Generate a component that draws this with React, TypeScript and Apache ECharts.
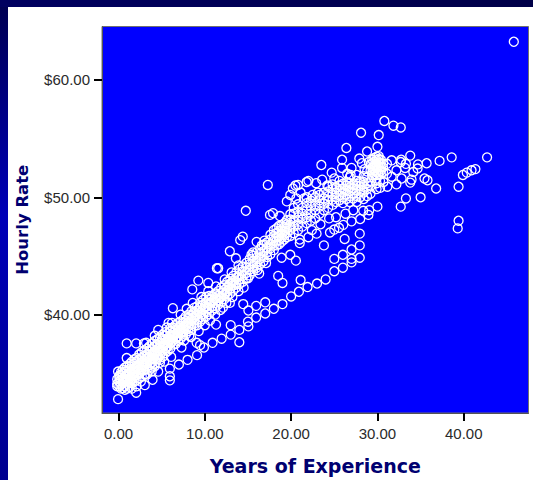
import React, { useEffect, useRef } from "react";
import * as echarts from "echarts";

// Tick labels
const xTicks = [0, 10, 20, 30, 40];
const yTicks = [40, 50, 60];

// Isolated circles above the band and to its right: [years, rate]
const upperPoints = [
  [45.8,63.25],[30.8,56.5],[31.85,56.1],[32.7,55.95],[28.1,55.5],[30.15,55.3],[26.4,54.2],[30,54.3],[28.8,53.9],
  [23.5,52.75],[25.9,53.2],[25.9,52.5],[27.9,53.3],[33.8,53.55],[38.6,53.4],[42.7,53.4],[37.2,53.1],[35.7,52.9],
  [34.7,52.8],[41.35,52.4],[40.9,52.3],[40.35,52.1],[39.9,51.9],[39.4,50.9],[35.45,51.6],[35.8,51.45],[36.8,50.75],
  [35,50],[33.3,49.9],[32.7,49.2],[39.4,48],[39.3,47.35],[31.65,53.15],[32.75,53.2],[33.2,52.5],[34.15,52.15],
  [32.8,51.6],[33.95,51.5],[33.8,51.25],[32.2,51.1],[31.15,50.9],[31.65,51.75],[30.7,51.3],[34.65,52.45],[33.3,52.85],
  [32.7,53],[32.2,52.3],[31.1,52.85],[31.1,52],[17.3,51.05],[17.55,48.5],[17.9,48.65],[21.8,51.3],[22,51.4],
  [20.2,50.75],[20.5,51],[20.8,51.05],[19.5,49.65],[19.9,50.2],[14.75,48.85],[14.4,46.65],[14.1,46.35],[13.6,44.8],
  [11.4,43.95],[11.55,43.95],[9.25,42.9],[10.4,42.7],[8.55,42.15],[6.3,40.55],[5.8,39.3],[4.6,38.7],[0.95,37.55],
  [2.05,37.55],[2.95,37.55],[0.95,36.3],[-0.05,35.15],[12.9,45.4],[15.6,45.3],[16,46.2],[16.9,46.3],[18.7,48.4],
  [21.5,49.9],[22.5,50.2],[23.1,50.4],[24.2,51],[25,51.6],[26.5,52],[27,52.5],[28.5,52.4],[29,53],[29.4,51.9],
  [22.9,51.2],[23.6,51.5],[24.7,52.1],[21.1,50.4],[28.2,52.9],[26.9,51.9],[20.6,49.9],
];

// Circles below the band, including the long lower chain
const lowerPoints = [
  [-0.05,32.8],[2.05,33.35],[3.05,34],[3.95,34.45],[5.95,34.75],[5.95,34.4],[5.95,35.4],[7,35.75],[8,36.15],[9.1,36.55],
  [4.8,35.9],[4.6,35.15],[3.85,35.15],[9.05,37.6],[9.45,37.4],[9.9,37.2],[10.9,37.6],[11.95,37.95],[13,38.3],[14,38.7],
  [15.05,39],[15.95,39.75],[17,40.1],[14,37.65],[13,39.1],[11.3,39.15],[15,39.4],[14.45,40.9],[15.05,40.35],[15.95,40.75],
  [17,41.05],[18,40.5],[19,40.9],[20,41.55],[20.9,41.95],[21.9,42.35],[21.1,42.95],[23,42.65],[24,43],[25,43.7],[26,44],
  [27,44.45],[27,44.75],[25,44.75],[26,45.1],[27.95,44.85],[27,45.55],[27.95,45.9],[23.8,45.9],[26.2,46.45],[27.95,46.9],
  [18.5,43.3],[19,42.7],[20.55,44.6],[19.9,45.1],[18.9,44.85],[24.5,47],[25,47.25],[25.55,47.4],[26.05,47.65],[27,47.95],
  [28,48.15],[28.95,48.5],[29.05,48.9],[28.35,48.85],[30,49.2],[22.95,46.9],[22,46.6],[21,46.4],[21,46.1],[17.1,44.4],
  [16.3,43.5],[12.1,40.6],[12.9,41],[8.4,38.1],[9.3,38.6],[7.3,37.2],[6.1,36.4],[5.3,36],[4.2,35.6],[3.3,34.9],[2.6,34.3],
  [22.4,47.2],[23.4,47.7],[24.4,48.2],[26.3,48.6],[27.2,48.9],[25.2,48.3],
];

// Solid lower band, years 0 to 8: [years, rate, rate, ...]
const bandLow = [
  [-0.15,34.1,34.5,33.9],[0.1,33.9,34.3,34.8,34.6],[0.3,33.7,34.05,34.45,34.85,35.1],[0.5,33.75,34.2,34.5,35,35.3],
  [0.75,33.6,33.9,34.3,34.75,35.15,35.5],[1,33.7,34.1,34.45,34.9,35.2,35.6],[1.3,33.85,34.3,34.6,35.05,35.4,35.8],
  [1.55,33.7,34.15,34.5,34.85,35.25,35.7,36],[1.85,34.3,34.7,35,35.35,35.8,36.2],[2.1,33.9,34.4,34.85,35.2,35.6,36,36.3],
  [2.4,34.6,35,35.3,35.75,36.15,36.6],[2.7,34.75,35.2,35.55,35.95,36.3,36.8],[3,34.9,35.3,35.7,36.05,36.5,36.95],
  [3.3,35.35,35.85,36.2,36.6,37.1],[3.6,35.3,35.7,36.1,36.4,36.85,37.3],[3.9,35.5,35.95,36.3,36.7,37.05,37.55],
  [4.2,35.8,36.2,36.55,36.9,37.3,37.75],[4.5,36.2,36.6,36.95,37.4,37.9],[4.8,36.15,36.55,36.9,37.2,37.6,38.05],
  [5.1,36.4,36.85,37.25,37.55,37.95,38.3],[5.4,36.7,37.1,37.45,37.85,38.2,38.5],[5.7,36.9,37.3,37.65,38,38.4],
  [6,37.1,37.55,37.9,38.25,38.6,38.85],[6.3,37.45,37.8,38.1,38.45,38.9],[6.6,37.5,37.95,38.35,38.7,39.1],
  [6.9,37.75,38.15,38.5,38.85,39.3],[7.2,37.95,38.4,38.75,39.05,39.4],[7.5,38.2,38.55,38.95,39.3,39.6],
  [7.8,38.3,38.7,39.05,39.45,39.85],
];

// Lower-middle band, years 8 to 14
const bandMid = [
  [8.1,38.6,39,39.35,39.7,40],[8.45,38.7,39.15,39.55,39.95,40.3],[8.8,39.05,39.5,39.8,40.2,40.6],
  [9.1,39.1,39.55,40,40.35,40.7],[9.45,39.4,39.8,40.15,40.6,41],[9.8,39.65,40.05,40.45,40.85,41.25],
  [10.15,39.85,40.3,40.7,41.05,41.5],[10.5,40.05,40.55,40.9,41.3,41.6],[10.85,40.35,40.7,41.1,41.55],
  [11.2,40.55,41,41.4,41.8],[11.55,40.85,41.2,41.6,42],[11.9,41.05,41.5,41.85,42.3],[12.25,41.3,41.7,42.1,42.5],
  [12.6,41.55,42,42.35,42.8],[12.95,41.8,42.2,42.65,43.05],[13.3,42.05,42.5,42.85,43.3],[13.65,42.3,42.75,43.15,43.6],
  [14,42.6,43,43.35,43.85],
];

// Extra circles filling the solid part of the band and roughening its edges
const bandFill = [
  [0.6,34.4],[0.9,34.55],[1.15,34.75],[1.4,34.2],[1.7,34.9],[1.95,35.15],[2.25,35.45],[2.55,35.1],[2.85,35.75],[3.15,35.95],
  [3.45,36.35],[3.75,35.85],[4.05,36.45],[4.35,36.75],[4.65,36.4],[4.95,37],[5.25,37.35],[5.55,37.15],[5.85,37.75],
  [6.15,37.65],[6.45,38.25],[6.75,38.05],[7.05,38.65],[7.35,38.5],[7.65,38.85],[7.95,39.25],[8.3,39.3],[8.6,39.7],
  [8.95,39.95],[9.3,40.3],[9.6,40],[9.95,40.65],[10.3,40.5],[10.7,41],[11.05,41.25],[11.4,41.2],[11.75,41.4],[12.1,41.9],
  [12.45,41.85],[12.8,42.5],[13.15,42.7],[13.5,42.55],[13.85,43.2],[10,39.1],[10.6,39.5],[11.2,40],[11.8,40.4],[12.5,41],
  [13.2,41.5],[13.9,42],[14.5,42.3],[7.6,37.8],[8.2,38.2],[9.6,41.5],[10.4,42],[11.3,42.4],[12.3,43],[13.1,43.6],[13.9,44.2],
  [7.2,40],[7.9,40.5],[8.6,41],[5.6,38.9],[6.2,39.3],[4.2,38.2],[3.2,37.6],[15,43.1],[16.1,43.8],[15.4,45.1],[16.6,45.9],
];

// Upper-middle band, years 14 to 20
const bandHigh = [
  [14.4,42.8,43.3,43.7,44.1],[14.8,43.1,43.55,44,44.4],[15.2,43.35,43.85,44.3,44.75],[15.6,43.7,44.15,44.55,45],
  [16,44,44.4,44.85,45.3],[16.4,44.3,44.75,45.2,45.6],[16.8,44.55,45,45.4,45.95],[17.2,44.9,45.3,45.7,46.15],
  [17.6,45.15,45.65,46,46.4,46.8],[18,45.5,45.9,46.3,46.7,47.2],[18.3,45.9,46.3,46.6,46.95,47.35],
  [18.6,46,46.35,46.7,47.1,47.55],[18.9,46.2,46.55,46.9,47.25,47.6],[19.2,46.4,46.8,47.1,47.45,47.8],
  [19.5,46.6,46.95,47.35,47.7,48.05],[19.9,46.7,47.2,47.65,48.1,48.55],
];

// Wide band, years 20 to 29
const bandTop = [
  [20.3,46.95,47.5,48,48.6,49.1],[20.8,47.2,47.7,48.3,48.8,49.4],[21.3,47.5,48.1,48.6,49.1],[21.8,47.8,48.3,48.9,49.5,50],
  [22.3,48,48.6,49.2,49.7],[22.8,48.2,48.9,49.4,50],[23.3,48.6,49.2,49.75,50.2],[23.8,48.9,49.45,49.9,50.4],
  [24.3,49.1,49.7,50.1,50.5,50.9],[24.8,49.35,49.8,50.25,50.7,51.1],[25.2,49.6,50,50.4,50.85],[25.6,49.75,50.15,50.55,51,51.4],
  [26,49.5,50,50.4,50.75,51.15],[26.4,49.85,50.25,50.6,51,51.3],[26.8,49.6,50.1,50.5,50.85,51.2,51.7],[27.2,49.9,50.35,50.75,51.1],
  [27.6,49.6,50.1,50.6,51,51.4,51.9],[28,50,50.5,50.95,51.35],[28.4,49.85,50.4,50.9,51.3,51.8],[28.8,50.1,50.7,51.2,51.7,52.2],
  [29.2,50.3,50.95,51.35,52.3,52.8],
];

// Solid blob at thirty years
const blobThirty = [
  [29.4,52.1,52.5,52.9,53.2],[29.65,52,52.3,52.7,53,53.35],[29.9,51.9,52.2,52.5,52.85,53.15,53.45],
  [30.15,52,52.35,52.65,52.95,53.25,53.5],[30.4,51.95,52.25,52.6,52.9,53.2],[30.65,52.15,52.55,52.85],
  [29.9,50.7,51.2,51.6],[30.3,50.8,51.4],
];

const rows = (cols: number[][]) => cols.flatMap(([x, ...ys]) => ys.map((y) => [x, y]));

const points = [
  ...upperPoints,
  ...lowerPoints,
  ...bandFill,
  ...rows(bandLow),
  ...rows(bandMid),
  ...rows(bandHigh),
  ...rows(bandTop),
  ...rows(blobThirty),
];

export default function App() {
  const ref = useRef<HTMLDivElement>(null);
  useEffect(() => {
    const chart = echarts.init(ref.current!, null, { renderer: "svg" });
    chart.setOption({
      animation: false,
      backgroundColor: "#ffffff",
      graphic: [
        {
          type: "rect",
          shape: { x: 0, y: 0, width: 8, height: 480 },
          style: {
            fill: {
              type: "linear", x: 0, y: 0, x2: 0, y2: 1,
              colorStops: [
                { offset: 0, color: "#000050" },
                { offset: 0.45, color: "#0000b8" },
                { offset: 1, color: "#000090" },
              ],
            },
          },
        },
        {
          type: "rect",
          shape: { x: 0, y: 0, width: 533, height: 7 },
          style: {
            fill: {
              type: "linear", x: 0, y: 0, x2: 1, y2: 0,
              colorStops: [
                { offset: 0, color: "#000060" },
                { offset: 1, color: "#000048" },
              ],
            },
          },
        },
      ],
      grid: {
        left: 102,
        top: 26.5,
        width: 426.5,
        height: 390,
        show: true,
        backgroundColor: "#0000ff",
        borderColor: "#707070",
        borderWidth: 1,
      },
      xAxis: {
        type: "value",
        min: -1.91,
        max: 47.5,
        name: "Years of Experience",
        nameLocation: "middle",
        nameGap: 43,
        nameTextStyle: { fontFamily: "DejaVu Sans", fontWeight: "bold", fontSize: 19, color: "#000070" },
        splitLine: { show: false },
        axisLine: { show: true, onZero: false, lineStyle: { color: "#555555", width: 1 } },
        axisTick: { show: true, customValues: xTicks, length: 8, lineStyle: { color: "#000000", width: 2 } },
        axisLabel: {
          customValues: xTicks,
          margin: 13,
          fontFamily: "Liberation Sans",
          fontSize: 15,
          color: "#2a2a2a",
          formatter: (v: number) => v.toFixed(2),
        },
      },
      yAxis: {
        type: "value",
        min: 31.62,
        max: 64.55,
        name: "Hourly Rate",
        nameLocation: "middle",
        nameGap: 71,
        nameTextStyle: { fontFamily: "DejaVu Sans", fontWeight: "bold", fontSize: 16.5, color: "#000070" },
        splitLine: { show: false },
        axisLine: { show: true, onZero: false, lineStyle: { color: "#555555", width: 1 } },
        axisTick: { show: true, customValues: yTicks, length: 8, lineStyle: { color: "#000000", width: 2 } },
        axisLabel: {
          customValues: yTicks,
          margin: 12,
          fontFamily: "Liberation Sans",
          fontSize: 15,
          color: "#2a2a2a",
          formatter: (v: number) => "$" + v.toFixed(2),
        },
      },
      series: [
        {
          type: "scatter",
          data: points,
          symbol: "circle",
          symbolSize: 9,
          itemStyle: { color: "transparent", borderColor: "#ffffff", borderWidth: 1.3, opacity: 1 },
          silent: true,
        },
      ],
    });
    return () => chart.dispose();
  }, []);
  return <div ref={ref} style={{ position: "absolute", left: 0, top: 0, width: 533, height: 480 }} />;
}
